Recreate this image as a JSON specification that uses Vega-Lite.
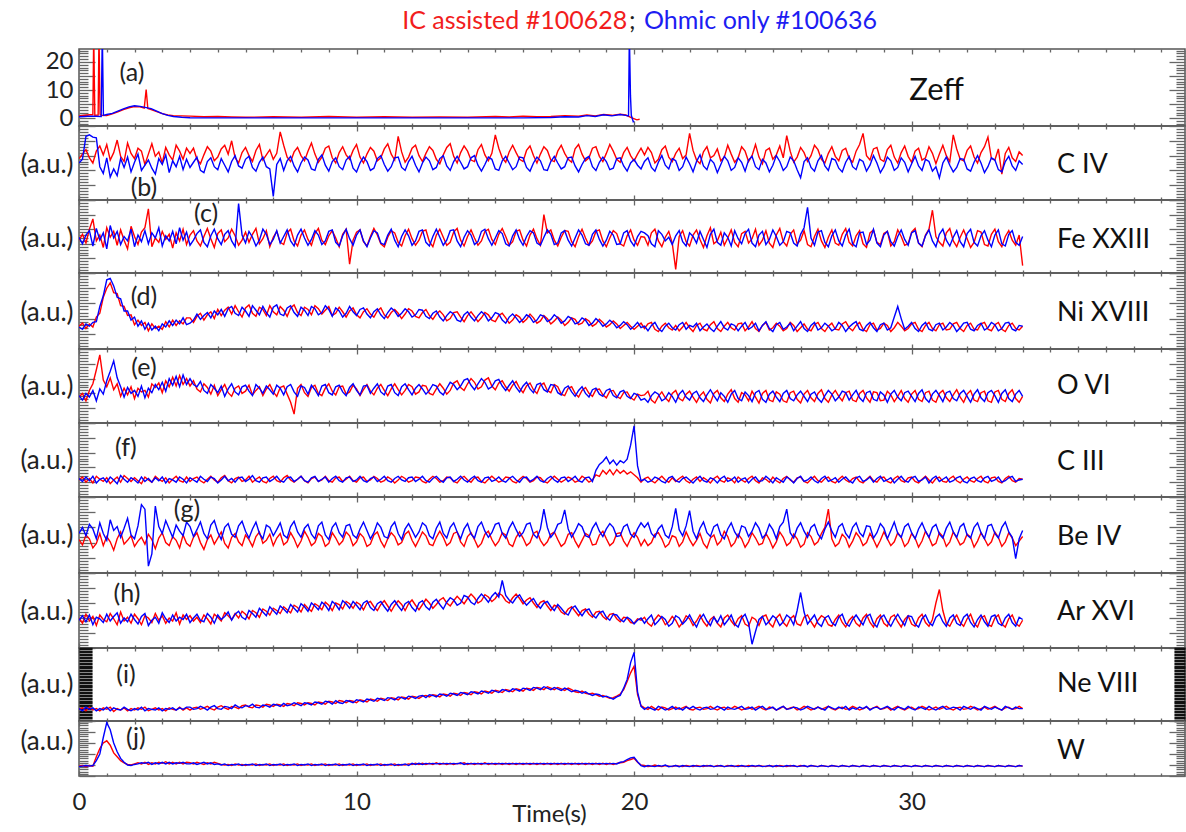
{
"$schema":"https://vega.github.io/schema/vega-lite/v6.json",
"padding":{"left":19,"top":8,"right":0,"bottom":0},
"background":"white",
"config":{"font":"Lato","view":{"stroke":"#555","strokeWidth":1.5},
"axis":{"domain":false,"grid":false,"tickColor":"#666","tickWidth":1.3,"labelColor":"#222","titleColor":"#222","titleFontWeight":"normal","labelFont":"Lato","titleFont":"Lato"}},
"spacing":0,"bounds":"flush",
"datasets":{
"z":[{"t":0,"r":0.8,"b":0.5},{"t":0.2,"r":1,"b":0.6},{"t":0.4,"r":1.2,"b":0.7},{"t":0.5,"r":1.2},{"t":0.53,"r":30},{"t":0.57,"r":1.0},{"t":0.69,"r":1.1},{"t":0.72,"r":30},{"t":0.76,"r":1.4},{"t":0.8,"r":1.0,"b":0.6},{"t":0.84,"b":30},{"t":0.88,"b":1.0},{"t":1.0,"r":0.9,"b":1.3},{"t":1.2,"r":1.5,"b":1.7},{"t":1.4,"r":2.2,"b":2.5},{"t":1.6,"r":3.0,"b":3.3},{"t":1.8,"r":3.7,"b":4.0},{"t":2.0,"r":4.1,"b":4.4},{"t":2.2,"r":4.0,"b":4.2},{"t":2.35,"r":3.6},{"t":2.42,"r":10.2},{"t":2.48,"r":3.4},{"t":2.6,"r":3.0,"b":3.4},{"t":2.8,"r":2.3,"b":2.5},{"t":3.0,"r":1.6,"b":1.6},{"t":3.2,"r":1.1,"b":1.0},{"t":3.4,"r":0.9,"b":0.6},{"t":3.7,"r":0.8,"b":0.3},{"t":4.0,"r":0.7,"b":0.15},{"t":4.5,"r":0.5,"b":0.1},{"t":5,"r":0.6,"b":0.1},{"t":5.5,"r":0.4},{"t":6,"r":0.3,"b":0.1},{"t":7,"r":0.5},{"t":8,"r":0.3,"b":0.1},{"t":9,"r":0.6},{"t":10,"r":0.3,"b":0.1},{"t":11,"r":0.5},{"t":12,"r":0.3,"b":0.1},{"t":13,"r":0.4},{"t":14,"r":0.3,"b":0.1},{"t":15,"r":0.6},{"t":15.5,"r":0.4},{"t":16,"r":0.7,"b":0.1},{"t":16.5,"r":0.5},{"t":17,"r":0.6,"b":0.2},{"t":17.5,"r":0.9,"b":0.5},{"t":18,"r":0.7,"b":0.4},{"t":18.3,"r":1.1,"b":0.9},{"t":18.6,"r":0.8,"b":0.6},{"t":18.9,"r":1.3,"b":1.2},{"t":19.2,"r":1.0,"b":0.8},{"t":19.5,"r":1.4,"b":1.3},{"t":19.7,"r":1.1,"b":1.0},{"t":19.8,"b":0.8},{"t":19.83,"b":30},{"t":19.87,"b":8},{"t":19.9,"r":0.2,"b":1},{"t":19.97,"b":-1.3},{"t":20.0,"b":-1.0},{"t":20.1,"r":-0.6},{"t":20.2,"r":-0.4}],
"m":[
{"t":0,"B":56,"b":50,"C":45,"c":49,"D":30,"d":29,"E":35,"e":37,"F":23,"f":25,"G":44,"g":52,"H":40,"h":37,"I":16,"i":17,"J":18,"j":17},
{"t":0.125,"B":62,"b":55,"C":53,"c":40,"D":34,"d":26,"E":40,"e":31,"F":27,"f":21,"G":37,"g":60,"H":33,"h":43,"I":18,"i":14,"J":19,"j":18},
{"t":0.25,"B":68,"b":86,"C":41,"c":52,"D":27,"d":33,"E":30,"e":40,"F":20,"f":27,"G":50,"g":49,"H":45,"h":35,"I":14,"i":19,"J":17,"j":19},
{"t":0.375,"B":57,"b":88,"C":60,"c":58,"D":33,"d":30,"E":44,"e":35,"F":25,"f":22,"G":45,"g":64,"H":36,"h":44,"I":19,"i":16,"J":19,"j":18},
{"t":0.5,"B":50,"b":85,"C":74,"c":37,"D":29,"d":35,"E":53,"e":44,"F":19,"f":28,"G":33,"g":58,"H":42,"h":31,"I":15,"i":18,"J":18,"j":19},
{"t":0.625,"B":66,"b":84,"C":44,"c":61,"D":42,"d":36,"E":72,"e":30,"F":28,"f":19,"G":39,"g":45,"H":30,"h":41,"I":17,"i":14,"J":35,"j":28},
{"t":0.75,"B":73,"b":45,"C":52,"c":45,"D":47,"d":56,"E":92,"e":46,"F":24,"f":24,"G":52,"g":66,"H":44,"h":39,"I":14,"i":17,"J":50,"j":40},
{"t":0.875,"B":61,"b":36,"C":35,"c":55,"D":68,"d":70,"E":58,"e":39,"F":21,"f":26,"G":36,"g":52,"H":38,"h":34,"I":18,"i":15,"J":60,"j":70},
{"t":1,"B":75,"b":57,"C":62,"c":33,"D":80,"d":91,"E":49,"e":57,"F":26,"f":20,"G":48,"g":43,"H":35,"h":45,"I":16,"i":19,"J":64,"j":97},
{"t":1.125,"B":54,"b":31,"C":49,"c":65,"D":87,"d":93,"E":61,"e":70,"F":18,"f":27,"G":41,"g":70,"H":46,"h":36,"I":19,"i":14,"J":56,"j":84},
{"t":1.25,"B":64,"b":42,"C":57,"c":48,"D":74,"d":83,"E":45,"e":84,"F":23,"f":23,"G":30,"g":56,"H":39,"h":42,"I":13,"i":18,"J":42,"j":60},
{"t":1.375,"B":81,"b":33,"C":38,"c":57,"D":73,"d":68,"E":53,"e":61,"F":27,"f":18,"G":45,"g":61,"H":31,"h":47,"I":17,"i":16,"J":35,"j":44},
{"t":1.5,"B":59,"b":56,"C":59,"c":39,"D":57,"d":66,"E":36,"e":49,"F":20,"f":29,"G":54,"g":47,"H":48,"h":33,"I":15,"i":15,"J":28,"j":32},
{"t":1.625,"B":52,"b":44,"C":45,"c":50,"D":56,"d":50,"E":47,"e":35,"F":29,"f":24,"G":38,"g":59,"H":36,"h":40,"I":18,"i":19,"J":24,"j":25},
{"t":1.75,"B":77,"b":58,"C":33,"c":44,"D":44,"d":50,"E":38,"e":48,"F":25,"f":20,"G":43,"g":72,"H":41,"h":35,"I":14,"i":16,"J":21,"j":20},
{"t":1.875,"B":63,"b":38,"C":64,"c":60,"D":45,"d":38,"E":49,"e":40,"F":21,"f":26,"G":49,"g":50,"H":33,"h":45,"I":17,"i":14,"J":20,"j":19},
{"t":2,"B":56,"b":51,"C":50,"c":36,"D":32,"d":42,"E":33,"e":44,"F":26,"f":23,"G":35,"g":45,"H":45,"h":38,"I":15,"i":17,"J":22,"j":21},
{"t":2.125,"B":70,"b":62,"C":39,"c":52,"D":38,"d":30,"E":47,"e":36,"F":22,"f":19,"G":42,"g":62,"H":39,"h":32,"I":18,"i":15,"J":24,"j":22},
{"t":2.25,"B":66,"b":40,"C":56,"c":43,"D":31,"d":37,"E":42,"e":50,"F":18,"f":27,"G":47,"g":90,"H":31,"h":42,"I":16,"i":19,"J":22,"j":24},
{"t":2.375,"B":48,"b":47,"C":62,"c":58,"D":35,"d":26,"E":44,"e":34,"F":27,"f":21,"G":38,"g":84,"H":43,"h":46,"I":19,"i":14,"J":25,"j":23},
{"t":2.5,"B":62,"b":54,"C":88,"c":40,"D":24,"d":34,"E":35,"e":47,"F":23,"f":25,"G":51,"g":9,"H":40,"h":30,"I":14,"i":17,"J":21,"j":25},
{"t":2.625,"B":76,"b":43,"C":36,"c":55,"D":33,"d":25,"E":53,"e":41,"F":20,"f":20,"G":44,"g":25,"H":34,"h":37,"I":16,"i":16,"J":24,"j":21},
{"t":2.75,"B":59,"b":35,"C":48,"c":48,"D":27,"d":30,"E":48,"e":52,"F":28,"f":26,"G":32,"g":88,"H":46,"h":41,"I":18,"i":15,"J":22,"j":24},
{"t":2.875,"B":65,"b":56,"C":42,"c":62,"D":30,"d":24,"E":54,"e":45,"F":24,"f":22,"G":46,"g":61,"H":37,"h":33,"I":15,"i":18,"J":25,"j":22},
{"t":3,"B":50,"b":48,"C":57,"c":37,"D":26,"d":33,"E":41,"e":55,"F":21,"f":27,"G":53,"g":52,"H":43,"h":47,"I":17,"i":14,"J":23,"j":25},
{"t":3.125,"B":71,"b":61,"C":46,"c":51,"D":36,"d":29,"E":57,"e":43,"F":26,"f":19,"G":40,"g":69,"H":33,"h":39,"I":14,"i":17,"J":26,"j":22},
{"t":3.25,"B":61,"b":37,"C":53,"c":44,"D":29,"d":37,"E":49,"e":60,"F":19,"f":25,"G":36,"g":58,"H":40,"h":34,"I":18,"i":16,"J":22,"j":25},
{"t":3.375,"B":54,"b":53,"C":34,"c":57,"D":38,"d":31,"E":62,"e":51,"F":24,"f":23,"G":48,"g":47,"H":36,"h":44,"I":16,"i":18,"J":25,"j":22},
{"t":3.5,"B":74,"b":45,"C":55,"c":40,"D":31,"d":38,"E":50,"e":63,"F":28,"f":20,"G":43,"g":63,"H":47,"h":36,"I":15,"i":15,"J":22,"j":24},
{"t":3.625,"B":66,"b":59,"C":44,"c":62,"D":37,"d":33,"E":64,"e":49,"F":22,"f":27,"G":33,"g":55,"H":32,"h":41,"I":19,"i":18,"J":25,"j":23},
{"t":3.75,"B":55,"b":41,"C":60,"c":45,"D":33,"d":41,"E":52,"e":65,"F":20,"f":24,"G":50,"g":49,"H":44,"h":38,"I":15,"i":16,"J":22,"j":25},
{"t":3.875,"B":70,"b":55,"C":39,"c":56,"D":41,"d":32,"E":60,"e":52,"F":27,"f":19,"G":39,"g":67,"H":38,"h":45,"I":18,"i":19,"J":25,"j":22},
{"t":4,"B":63,"b":44,"C":52,"c":38,"D":41,"d":34,"E":50,"e":60,"F":21,"f":26,"G":35,"g":61,"H":43,"h":34,"I":15,"i":19,"J":24,"j":22},
{"t":4.125,"B":70,"b":51,"C":58,"c":45,"D":35,"d":38,"E":57,"e":52,"F":25,"f":23,"G":47,"g":48,"H":36,"h":40,"I":18,"i":16,"J":22,"j":24},
{"t":4.25,"B":55,"b":58,"C":44,"c":54,"D":43,"d":46,"E":46,"e":49,"F":27,"f":20,"G":53,"g":57,"H":41,"h":45,"I":19,"i":17,"J":25,"j":21},
{"t":4.375,"B":49,"b":40,"C":37,"c":59,"D":47,"d":39,"E":42,"e":56,"F":22,"f":28,"G":40,"g":67,"H":34,"h":37,"I":16,"i":20,"J":23,"j":23},
{"t":4.5,"B":61,"b":37,"C":50,"c":42,"D":38,"d":44,"E":53,"e":44,"F":19,"f":24,"G":31,"g":52,"H":44,"h":35,"I":18,"i":18,"J":21,"j":25},
{"t":4.625,"B":72,"b":52,"C":61,"c":36,"D":45,"d":48,"E":48,"e":40,"F":24,"f":21,"G":44,"g":45,"H":39,"h":46,"I":20,"i":15,"J":24,"j":22},
{"t":4.75,"B":66,"b":57,"C":47,"c":51,"D":49,"d":41,"E":39,"e":52,"F":28,"f":27,"G":50,"g":63,"H":32,"h":41,"I":17,"i":19,"J":22,"j":24},
{"t":4.875,"B":53,"b":45,"C":35,"c":60,"D":40,"d":50,"E":51,"e":47,"F":23,"f":25,"G":38,"g":69,"H":45,"h":33,"I":15,"i":21,"J":25,"j":21},
{"t":5,"B":58,"b":41,"C":54,"c":47,"D":52,"d":45,"E":37,"e":41,"F":20,"f":19,"G":46,"g":54,"H":41,"h":44,"I":19,"i":17,"J":23,"j":22},
{"t":5.125,"B":69,"b":56,"C":59,"c":39,"D":44,"d":52,"E":45,"e":50,"F":26,"f":23,"G":54,"g":44,"H":36,"h":38,"I":21,"i":16,"J":21,"j":20},
{"t":5.25,"B":74,"b":47,"C":43,"c":53,"D":51,"d":43,"E":52,"e":36,"F":29,"f":28,"G":39,"g":60,"H":47,"h":42,"I":18,"i":20,"J":20,"j":22},
{"t":5.375,"B":62,"b":38,"C":48,"c":58,"D":55,"d":53,"E":41,"e":46,"F":22,"f":22,"G":33,"g":65,"H":43,"h":48,"I":16,"i":19,"J":21,"j":19},
{"t":5.5,"B":80,"b":52,"C":60,"c":44,"D":46,"d":56,"E":36,"e":53,"F":19,"f":25,"G":47,"g":51,"H":38,"h":37,"I":20,"i":17,"J":19,"j":21},
{"t":5.625,"B":57,"b":60,"C":51,"c":36,"D":57,"d":47,"E":47,"e":42,"F":25,"f":20,"G":52,"g":47,"H":46,"h":45,"I":19,"i":22,"J":22,"j":20},
{"t":5.75,"B":50,"b":46,"C":38,"c":95,"D":49,"d":44,"E":50,"e":38,"F":27,"f":26,"G":41,"g":62,"H":40,"h":49,"I":17,"i":19,"J":20,"j":22},
{"t":5.875,"B":64,"b":43,"C":45,"c":52,"D":42,"d":55,"E":40,"e":49,"F":21,"f":27,"G":36,"g":68,"H":49,"h":41,"I":21,"i":18,"J":21,"j":19},
{"t":6,"B":71,"b":55,"C":56,"c":41,"D":54,"d":50,"E":43,"e":51,"F":23,"f":21,"G":50,"g":55,"H":45,"h":38,"I":22,"i":21,"J":19,"j":21},
{"t":6.125,"B":60,"b":59,"C":42,"c":57,"D":58,"d":43,"E":51,"e":43,"F":28,"f":24,"G":44,"g":46,"H":39,"h":50,"I":19,"i":20,"J":21,"j":20},
{"t":6.25,"B":52,"b":44,"C":53,"c":49,"D":47,"d":57,"E":38,"e":37,"F":20,"f":29,"G":35,"g":58,"H":50,"h":46,"I":18,"i":23,"J":20,"j":22},
{"t":6.375,"B":67,"b":39,"C":61,"c":37,"D":43,"d":51,"E":44,"e":52,"F":24,"f":22,"G":48,"g":67,"H":47,"h":41,"I":22,"i":19,"J":22,"j":19},
{"t":6.5,"B":75,"b":51,"C":40,"c":45,"D":55,"d":45,"E":49,"e":47,"F":27,"f":20,"G":54,"g":52,"H":41,"h":53,"I":21,"i":18,"J":19,"j":21},
{"t":6.625,"B":54,"b":58,"C":47,"c":60,"D":52,"d":56,"E":37,"e":40,"F":21,"f":26,"G":39,"g":45,"H":52,"h":48,"I":19,"i":22,"J":21,"j":20},
{"t":6.75,"B":61,"b":45,"C":58,"c":53,"D":44,"d":48,"E":46,"e":50,"F":19,"f":27,"G":43,"g":63,"H":49,"h":43,"I":23,"i":21,"J":20,"j":22},
{"t":6.875,"B":68,"b":42,"C":36,"c":39,"D":57,"d":42,"E":52,"e":45,"F":25,"f":21,"G":51,"g":60,"H":44,"h":55,"I":22,"i":19,"J":22,"j":19},
{"t":7,"B":55,"b":5,"C":49,"c":46,"D":49,"d":55,"E":42,"e":39,"F":28,"f":24,"G":36,"g":49,"H":53,"h":50,"I":20,"i":23,"J":19,"j":21},
{"t":7.125,"B":63,"b":48,"C":57,"c":58,"D":45,"d":58,"E":36,"e":51,"F":22,"f":28,"G":46,"g":57,"H":50,"h":45,"I":23,"i":22,"J":21,"j":20},
{"t":7.25,"B":92,"b":56,"C":42,"c":41,"D":56,"d":46,"E":48,"e":47,"F":20,"f":22,"G":52,"g":66,"H":46,"h":56,"I":22,"i":20,"J":20,"j":22},
{"t":7.375,"B":74,"b":40,"C":39,"c":50,"D":51,"d":44,"E":50,"e":38,"F":26,"f":20,"G":37,"g":50,"H":55,"h":52,"I":20,"i":24,"J":22,"j":19},
{"t":7.5,"B":58,"b":53,"C":55,"c":59,"D":43,"d":54,"E":39,"e":49,"F":29,"f":26,"G":41,"g":46,"H":51,"h":47,"I":24,"i":21,"J":19,"j":21},
{"t":7.625,"B":52,"b":59,"C":60,"c":44,"D":54,"d":57,"E":28,"e":52,"F":23,"f":27,"G":53,"g":61,"H":47,"h":58,"I":23,"i":22,"J":21,"j":20},
{"t":7.75,"B":65,"b":46,"C":44,"c":37,"D":58,"d":48,"E":12,"e":42,"F":20,"f":21,"G":45,"g":68,"H":57,"h":53,"I":21,"i":25,"J":20,"j":22},
{"t":7.875,"B":71,"b":38,"C":37,"c":52,"D":48,"d":43,"E":47,"e":36,"F":24,"f":24,"G":34,"g":54,"H":54,"h":48,"I":25,"i":23,"J":22,"j":19},
{"t":8,"B":60,"b":50,"C":52,"c":60,"D":44,"d":55,"E":52,"e":50,"F":28,"f":28,"G":42,"g":47,"H":48,"h":59,"I":24,"i":21,"J":19,"j":21},
{"t":8.125,"B":53,"b":58,"C":59,"c":48,"D":55,"d":51,"E":41,"e":48,"F":22,"f":22,"G":55,"g":59,"H":58,"h":55,"I":22,"i":25,"J":21,"j":20},
{"t":8.25,"B":66,"b":54,"C":46,"c":38,"D":52,"d":44,"E":36,"e":39,"F":19,"f":20,"G":47,"g":64,"H":53,"h":49,"I":25,"i":24,"J":20,"j":22},
{"t":8.375,"B":77,"b":42,"C":38,"c":46,"D":45,"d":56,"E":48,"e":51,"F":25,"f":26,"G":36,"g":51,"H":49,"h":60,"I":24,"i":22,"J":22,"j":19},
{"t":8.5,"B":62,"b":40,"C":54,"c":58,"D":57,"d":53,"E":51,"e":45,"F":27,"f":28,"G":40,"g":45,"H":59,"h":56,"I":22,"i":26,"J":19,"j":21},
{"t":8.625,"B":51,"b":55,"C":61,"c":52,"D":53,"d":45,"E":40,"e":37,"F":21,"f":21,"G":52,"g":62,"H":56,"h":51,"I":26,"i":25,"J":21,"j":20},
{"t":8.75,"B":58,"b":61,"C":45,"c":39,"D":46,"d":48,"E":37,"e":50,"F":23,"f":24,"G":48,"g":67,"H":51,"h":61,"I":25,"i":23,"J":20,"j":22},
{"t":8.875,"B":70,"b":47,"C":39,"c":44,"D":51,"d":57,"E":47,"e":52,"F":28,"f":27,"G":35,"g":50,"H":61,"h":57,"I":23,"i":27,"J":22,"j":19},
{"t":9,"B":73,"b":39,"C":51,"c":57,"D":56,"d":52,"E":53,"e":41,"F":22,"f":20,"G":39,"g":44,"H":57,"h":50,"I":27,"i":26,"J":19,"j":21},
{"t":9.125,"B":57,"b":52,"C":58,"c":59,"D":44,"d":43,"E":43,"e":38,"F":20,"f":25,"G":53,"g":60,"H":50,"h":62,"I":26,"i":23,"J":21,"j":20},
{"t":9.25,"B":50,"b":57,"C":48,"c":42,"D":47,"d":54,"E":38,"e":49,"F":26,"f":28,"G":46,"g":66,"H":60,"h":58,"I":24,"i":28,"J":20,"j":22},
{"t":9.375,"B":64,"b":45,"C":36,"c":37,"D":55,"d":50,"E":49,"e":51,"F":27,"f":22,"G":37,"g":53,"H":58,"h":51,"I":28,"i":25,"J":22,"j":19},
{"t":9.5,"B":72,"b":41,"C":53,"c":51,"D":49,"d":42,"E":50,"e":42,"F":21,"f":20,"G":42,"g":47,"H":52,"h":63,"I":27,"i":24,"J":19,"j":21},
{"t":9.625,"B":61,"b":54,"C":60,"c":60,"D":42,"d":47,"E":39,"e":37,"F":24,"f":26,"G":54,"g":62,"H":62,"h":59,"I":25,"i":28,"J":21,"j":20},
{"t":9.75,"B":55,"b":59,"C":12,"c":47,"D":50,"d":56,"E":42,"e":48,"F":28,"f":27,"G":49,"g":64,"H":59,"h":53,"I":28,"i":27,"J":20,"j":22},
{"t":9.875,"B":67,"b":43,"C":45,"c":38,"D":54,"d":49,"E":51,"e":53,"F":22,"f":21,"G":36,"g":50,"H":53,"h":62,"I":27,"i":25,"J":22,"j":19},
{"t":10,"B":75,"b":38,"C":56,"c":52,"D":45,"d":44,"E":46,"e":44,"F":20,"f":23,"G":41,"g":46,"H":61,"h":57,"I":25,"i":29,"J":19,"j":21},
{"t":10.125,"B":58,"b":50,"C":59,"c":59,"D":41,"d":52,"E":37,"e":38,"F":26,"f":28,"G":52,"g":58,"H":58,"h":51,"I":29,"i":28,"J":21,"j":20},
{"t":10.25,"B":50,"b":58,"C":43,"c":44,"D":49,"d":54,"E":45,"e":50,"F":27,"f":22,"G":47,"g":67,"H":51,"h":60,"I":28,"i":26,"J":20,"j":22},
{"t":10.375,"B":62,"b":52,"C":37,"c":36,"D":53,"d":46,"E":52,"e":51,"F":21,"f":20,"G":35,"g":56,"H":60,"h":63,"I":26,"i":30,"J":22,"j":19},
{"t":10.5,"B":71,"b":40,"C":50,"c":48,"D":46,"d":41,"E":43,"e":40,"F":23,"f":25,"G":38,"g":45,"H":62,"h":54,"I":30,"i":29,"J":19,"j":21},
{"t":10.625,"B":66,"b":43,"C":61,"c":58,"D":42,"d":49,"E":38,"e":47,"F":28,"f":27,"G":50,"g":53,"H":55,"h":50,"I":29,"i":27,"J":21,"j":20},
{"t":10.75,"B":53,"b":56,"C":52,"c":55,"D":50,"d":53,"E":47,"e":53,"F":25,"f":21,"G":54,"g":66,"H":50,"h":59,"I":27,"i":31,"J":20,"j":22},
{"t":10.875,"B":57,"b":60,"C":40,"c":41,"D":54,"d":45,"E":52,"e":42,"F":20,"f":24,"G":42,"g":60,"H":58,"h":62,"I":31,"i":30,"J":22,"j":19},
{"t":11,"B":69,"b":48,"C":36,"c":39,"D":45,"d":40,"E":44,"e":38,"F":22,"f":28,"G":34,"g":48,"H":63,"h":55,"I":30,"i":28,"J":19,"j":21},
{"t":11.125,"B":76,"b":39,"C":49,"c":52,"D":41,"d":48,"E":37,"e":50,"F":27,"f":22,"G":45,"g":46,"H":56,"h":49,"I":28,"i":32,"J":21,"j":20},
{"t":11.25,"B":62,"b":45,"C":58,"c":60,"D":48,"d":54,"E":46,"e":52,"F":24,"f":20,"G":53,"g":61,"H":49,"h":58,"I":32,"i":31,"J":20,"j":22},
{"t":11.375,"B":54,"b":57,"C":55,"c":45,"D":52,"d":50,"E":53,"e":41,"F":19,"f":25,"G":48,"g":67,"H":57,"h":63,"I":31,"i":29,"J":22,"j":19},
{"t":11.5,"B":86,"b":58,"C":42,"c":36,"D":47,"d":43,"E":45,"e":37,"F":23,"f":28,"G":37,"g":52,"H":63,"h":56,"I":29,"i":33,"J":19,"j":21},
{"t":11.625,"B":65,"b":44,"C":37,"c":50,"D":40,"d":47,"E":38,"e":49,"F":28,"f":23,"G":40,"g":44,"H":58,"h":50,"I":33,"i":32,"J":21,"j":20},
{"t":11.75,"B":51,"b":40,"C":51,"c":59,"D":46,"d":53,"E":44,"e":53,"F":25,"f":21,"G":51,"g":58,"H":50,"h":59,"I":32,"i":30,"J":20,"j":22},
{"t":11.875,"B":58,"b":52,"C":60,"c":51,"D":53,"d":49,"E":52,"e":45,"F":20,"f":26,"G":55,"g":65,"H":59,"h":62,"I":30,"i":34,"J":22,"j":19},
{"t":12,"B":70,"b":59,"C":47,"c":38,"D":50,"d":42,"E":49,"e":38,"F":22,"f":27,"G":43,"g":56,"H":64,"h":54,"I":34,"i":33,"J":21,"j":23},
{"t":12.125,"B":74,"b":47,"C":38,"c":44,"D":43,"d":45,"E":39,"e":47,"F":27,"f":21,"G":35,"g":47,"H":57,"h":49,"I":33,"i":31,"J":23,"j":21},
{"t":12.25,"B":60,"b":38,"C":45,"c":57,"D":41,"d":52,"E":42,"e":52,"F":26,"f":24,"G":44,"g":54,"H":51,"h":60,"I":31,"i":34,"J":21,"j":23},
{"t":12.375,"B":52,"b":50,"C":57,"c":59,"D":48,"d":51,"E":51,"e":46,"F":21,"f":28,"G":54,"g":66,"H":58,"h":63,"I":34,"i":35,"J":23,"j":21},
{"t":12.5,"B":63,"b":58,"C":59,"c":42,"D":52,"d":43,"E":50,"e":39,"F":19,"f":22,"G":49,"g":62,"H":65,"h":55,"I":35,"i":32,"J":21,"j":23},
{"t":12.625,"B":72,"b":53,"C":43,"c":37,"D":44,"d":40,"E":40,"e":44,"F":24,"f":20,"G":38,"g":49,"H":60,"h":51,"I":33,"i":36,"J":23,"j":22},
{"t":12.75,"B":67,"b":41,"C":36,"c":50,"D":39,"d":47,"E":38,"e":52,"F":28,"f":25,"G":36,"g":45,"H":53,"h":61,"I":36,"i":35,"J":21,"j":23},
{"t":12.875,"B":55,"b":44,"C":52,"c":60,"D":46,"d":50,"E":46,"e":50,"F":25,"f":28,"G":47,"g":59,"H":58,"h":65,"I":35,"i":33,"J":24,"j":22},
{"t":13,"B":49,"b":56,"C":60,"c":49,"D":50,"d":42,"E":53,"e":42,"F":20,"f":23,"G":55,"g":67,"H":64,"h":58,"I":33,"i":37,"J":21,"j":23},
{"t":13.125,"B":61,"b":60,"C":49,"c":38,"D":45,"d":37,"E":47,"e":38,"F":22,"f":20,"G":47,"g":52,"H":67,"h":52,"I":37,"i":36,"J":23,"j":22},
{"t":13.25,"B":71,"b":46,"C":38,"c":45,"D":37,"d":44,"E":39,"e":47,"F":27,"f":26,"G":36,"g":46,"H":60,"h":61,"I":36,"i":34,"J":21,"j":23},
{"t":13.375,"B":76,"b":40,"C":42,"c":58,"D":40,"d":49,"E":44,"e":55,"F":26,"f":27,"G":40,"g":60,"H":56,"h":67,"I":34,"i":38,"J":23,"j":22},
{"t":13.5,"B":59,"b":52,"C":56,"c":59,"D":48,"d":46,"E":54,"e":52,"F":21,"f":21,"G":52,"g":66,"H":63,"h":64,"I":38,"i":37,"J":21,"j":23},
{"t":13.625,"B":50,"b":59,"C":61,"c":44,"D":49,"d":38,"E":57,"e":45,"F":19,"f":24,"G":54,"g":54,"H":69,"h":57,"I":37,"i":35,"J":23,"j":22},
{"t":13.75,"B":64,"b":51,"C":45,"c":36,"D":42,"d":36,"E":48,"e":50,"F":25,"f":28,"G":41,"g":45,"H":64,"h":60,"I":35,"i":39,"J":22,"j":24},
{"t":13.875,"B":73,"b":42,"C":37,"c":49,"D":36,"d":45,"E":44,"e":58,"F":28,"f":23,"G":35,"g":58,"H":59,"h":70,"I":39,"i":38,"J":24,"j":21},
{"t":14,"B":66,"b":45,"C":50,"c":58,"D":44,"d":49,"E":53,"e":60,"F":23,"f":20,"G":48,"g":65,"H":66,"h":68,"I":38,"i":36,"J":21,"j":23},
{"t":14.125,"B":54,"b":57,"C":59,"c":52,"D":49,"d":42,"E":60,"e":51,"F":20,"f":25,"G":53,"g":51,"H":72,"h":61,"I":36,"i":40,"J":23,"j":22},
{"t":14.25,"B":52,"b":60,"C":48,"c":39,"D":43,"d":37,"E":55,"e":45,"F":26,"f":28,"G":44,"g":46,"H":67,"h":58,"I":40,"i":39,"J":21,"j":23},
{"t":14.375,"B":68,"b":47,"C":38,"c":43,"D":36,"d":44,"E":46,"e":53,"F":27,"f":22,"G":34,"g":61,"H":60,"h":66,"I":39,"i":37,"J":23,"j":22},
{"t":14.5,"B":75,"b":39,"C":44,"c":57,"D":41,"d":49,"E":49,"e":60,"F":21,"f":20,"G":39,"g":67,"H":63,"h":72,"I":37,"i":41,"J":21,"j":23},
{"t":14.625,"B":61,"b":48,"C":57,"c":60,"D":48,"d":45,"E":58,"e":55,"F":19,"f":26,"G":51,"g":55,"H":71,"h":67,"I":41,"i":40,"J":24,"j":22},
{"t":14.75,"B":53,"b":58,"C":60,"c":47,"D":45,"d":37,"E":61,"e":46,"F":24,"f":27,"G":55,"g":47,"H":68,"h":61,"I":40,"i":38,"J":21,"j":23},
{"t":14.875,"B":63,"b":55,"C":46,"c":38,"D":38,"d":41,"E":50,"e":49,"F":28,"f":21,"G":44,"g":53,"H":62,"h":69,"I":38,"i":42,"J":23,"j":22},
{"t":15,"B":88,"b":42,"C":39,"c":48,"D":36,"d":48,"E":45,"e":57,"F":24,"f":23,"G":36,"g":64,"H":66,"h":74,"I":42,"i":41,"J":21,"j":23},
{"t":15.125,"B":70,"b":40,"C":53,"c":58,"D":44,"d":46,"E":54,"e":59,"F":20,"f":27,"G":42,"g":66,"H":73,"h":68,"I":41,"i":39,"J":23,"j":22},
{"t":15.25,"B":57,"b":53,"C":61,"c":54,"D":47,"d":38,"E":57,"e":50,"F":22,"f":22,"G":53,"g":52,"H":70,"h":90,"I":39,"i":43,"J":21,"j":23},
{"t":15.375,"B":51,"b":59,"C":50,"c":40,"D":41,"d":34,"E":49,"e":44,"F":27,"f":20,"G":50,"g":46,"H":63,"h":70,"I":43,"i":42,"J":23,"j":22},
{"t":15.5,"B":65,"b":50,"C":38,"c":37,"D":34,"d":42,"E":43,"e":51,"F":26,"f":25,"G":38,"g":59,"H":60,"h":64,"I":42,"i":40,"J":21,"j":23},
{"t":15.625,"B":74,"b":41,"C":43,"c":51,"D":38,"d":46,"E":51,"e":57,"F":21,"f":28,"G":35,"g":67,"H":67,"h":60,"I":40,"i":44,"J":23,"j":22},
{"t":15.75,"B":64,"b":45,"C":57,"c":59,"D":45,"d":41,"E":56,"e":48,"F":19,"f":23,"G":47,"g":57,"H":72,"h":67,"I":44,"i":43,"J":21,"j":23},
{"t":15.875,"B":55,"b":58,"C":59,"c":46,"D":42,"d":35,"E":47,"e":42,"F":24,"f":20,"G":54,"g":48,"H":66,"h":71,"I":43,"i":41,"J":23,"j":22},
{"t":16,"B":52,"b":57,"C":45,"c":38,"D":35,"d":39,"E":41,"e":50,"F":28,"f":26,"G":46,"g":53,"H":59,"h":63,"I":41,"i":45,"J":21,"j":23},
{"t":16.125,"B":67,"b":44,"C":37,"c":50,"D":39,"d":45,"E":50,"e":55,"F":25,"f":27,"G":36,"g":64,"H":64,"h":57,"I":45,"i":44,"J":23,"j":22},
{"t":16.25,"B":73,"b":39,"C":52,"c":58,"D":46,"d":42,"E":54,"e":46,"F":20,"f":21,"G":40,"g":66,"H":67,"h":62,"I":44,"i":42,"J":21,"j":23},
{"t":16.375,"B":60,"b":50,"C":60,"c":55,"D":41,"d":35,"E":45,"e":41,"F":22,"f":24,"G":52,"g":51,"H":60,"h":66,"I":42,"i":46,"J":23,"j":22},
{"t":16.5,"B":50,"b":58,"C":47,"c":41,"D":34,"d":38,"E":40,"e":52,"F":27,"f":28,"G":55,"g":46,"H":54,"h":58,"I":46,"i":45,"J":21,"j":23},
{"t":16.625,"B":62,"b":53,"C":38,"c":38,"D":37,"d":45,"E":51,"e":54,"F":26,"f":22,"G":43,"g":58,"H":61,"h":53,"I":45,"i":43,"J":23,"j":22},
{"t":16.75,"B":72,"b":41,"C":80,"c":49,"D":44,"d":43,"E":54,"e":45,"F":21,"f":20,"G":36,"g":84,"H":63,"h":60,"I":43,"i":47,"J":21,"j":23},
{"t":16.875,"B":67,"b":40,"C":55,"c":59,"D":40,"d":36,"E":44,"e":42,"F":19,"f":25,"G":41,"g":60,"H":56,"h":62,"I":47,"i":45,"J":23,"j":22},
{"t":17,"B":54,"b":52,"C":59,"c":53,"D":33,"d":39,"E":41,"e":52,"F":24,"f":28,"G":51,"g":47,"H":50,"h":55,"I":45,"i":43,"J":21,"j":23},
{"t":17.125,"B":52,"b":59,"C":45,"c":39,"D":37,"d":45,"E":52,"e":51,"F":28,"f":23,"G":54,"g":53,"H":57,"h":50,"I":43,"i":46,"J":23,"j":22},
{"t":17.25,"B":66,"b":50,"C":37,"c":41,"D":42,"d":41,"E":49,"e":41,"F":24,"f":20,"G":44,"g":64,"H":55,"h":58,"I":46,"i":44,"J":21,"j":23},
{"t":17.375,"B":74,"b":42,"C":49,"c":55,"D":38,"d":34,"E":39,"e":38,"F":20,"f":26,"G":35,"g":66,"H":48,"h":53,"I":44,"i":42,"J":23,"j":22},
{"t":17.5,"B":63,"b":45,"C":58,"c":58,"D":31,"d":37,"E":37,"e":47,"F":23,"f":27,"G":39,"g":83,"H":45,"h":47,"I":42,"i":45,"J":21,"j":23},
{"t":17.625,"B":55,"b":57,"C":57,"c":45,"D":35,"d":43,"E":47,"e":50,"F":27,"f":21,"G":51,"g":58,"H":52,"h":44,"I":45,"i":43,"J":23,"j":22},
{"t":17.75,"B":51,"b":58,"C":43,"c":37,"D":41,"d":40,"E":49,"e":42,"F":25,"f":24,"G":53,"g":47,"H":55,"h":53,"I":43,"i":40,"J":21,"j":23},
{"t":17.875,"B":69,"b":46,"C":36,"c":48,"D":39,"d":33,"E":40,"e":36,"F":20,"f":28,"G":42,"g":55,"H":49,"h":56,"I":40,"i":42,"J":23,"j":22},
{"t":18,"B":75,"b":38,"C":50,"c":59,"D":32,"d":35,"E":35,"e":44,"F":22,"f":22,"G":34,"g":65,"H":43,"h":49,"I":39,"i":41,"J":21,"j":23},
{"t":18.125,"B":62,"b":48,"C":60,"c":52,"D":34,"d":41,"E":44,"e":49,"F":28,"f":20,"G":43,"g":61,"H":50,"h":43,"I":41,"i":38,"J":23,"j":22},
{"t":18.25,"B":53,"b":56,"C":48,"c":40,"D":40,"d":38,"E":48,"e":40,"F":25,"f":26,"G":52,"g":49,"H":52,"h":50,"I":38,"i":40,"J":21,"j":23},
{"t":18.375,"B":57,"b":59,"C":38,"c":38,"D":37,"d":31,"E":40,"e":35,"F":20,"f":27,"G":49,"g":47,"H":45,"h":52,"I":37,"i":37,"J":23,"j":22},
{"t":18.5,"B":70,"b":45,"C":44,"c":53,"D":30,"d":34,"E":36,"e":45,"F":23,"f":21,"G":37,"g":59,"H":41,"h":44,"I":38,"i":35,"J":21,"j":23},
{"t":18.625,"B":72,"b":40,"C":57,"c":59,"D":33,"d":40,"E":45,"e":47,"F":30,"f":36,"G":38,"g":66,"H":48,"h":40,"I":36,"i":37,"J":23,"j":22},
{"t":18.75,"B":59,"b":51,"C":59,"c":46,"D":39,"d":36,"E":46,"e":39,"F":28,"f":44,"G":50,"g":55,"H":49,"h":47,"I":34,"i":36,"J":21,"j":23},
{"t":18.875,"B":52,"b":58,"C":44,"c":37,"D":35,"d":30,"E":38,"e":36,"F":36,"f":48,"G":55,"g":48,"H":42,"h":49,"I":35,"i":33,"J":23,"j":22},
{"t":19,"B":63,"b":52,"C":36,"c":45,"D":29,"d":33,"E":34,"e":44,"F":31,"f":54,"G":45,"g":58,"H":38,"h":41,"I":33,"i":34,"J":21,"j":23},
{"t":19.125,"B":75,"b":41,"C":48,"c":57,"D":32,"d":38,"E":43,"e":46,"F":37,"f":45,"G":36,"g":65,"H":45,"h":37,"I":31,"i":32,"J":23,"j":22},
{"t":19.25,"B":66,"b":43,"C":58,"c":52,"D":37,"d":34,"E":44,"e":37,"F":30,"f":50,"G":40,"g":60,"H":46,"h":45,"I":32,"i":30,"J":21,"j":23},
{"t":19.375,"B":55,"b":56,"C":54,"c":39,"D":33,"d":28,"E":36,"e":34,"F":37,"f":43,"G":52,"g":48,"H":39,"h":44,"I":34,"i":33,"J":23,"j":22},
{"t":19.5,"B":51,"b":57,"C":40,"c":40,"D":27,"d":31,"E":33,"e":42,"F":32,"f":49,"G":53,"g":49,"H":35,"h":38,"I":37,"i":35,"J":24,"j":25},
{"t":19.625,"B":64,"b":46,"C":37,"c":55,"D":31,"d":36,"E":41,"e":44,"F":36,"f":46,"G":42,"g":61,"H":41,"h":35,"I":43,"i":45,"J":25,"j":26},
{"t":19.75,"B":71,"b":39,"C":51,"c":58,"D":35,"d":32,"E":42,"e":36,"F":31,"f":51,"G":35,"g":64,"H":40,"h":41,"I":54,"i":57,"J":28,"j":30},
{"t":19.875,"B":60,"b":50,"C":59,"c":44,"D":30,"d":26,"E":34,"e":33,"F":34,"f":70,"G":45,"g":51,"H":34,"h":38,"I":66,"i":80,"J":30,"j":33},
{"t":20,"B":53,"b":55,"C":45,"c":37,"D":26,"d":30,"E":31,"e":40,"F":30,"f":96,"G":53,"g":47,"H":33,"h":32,"I":75,"i":94,"J":32,"j":34},
{"t":20.125,"B":62,"b":47,"C":38,"c":50,"D":30,"d":35,"E":39,"e":38,"F":26,"f":42,"G":47,"g":58,"H":39,"h":37,"I":36,"i":40,"J":25,"j":26},
{"t":20.25,"B":70,"b":42,"C":50,"c":57,"D":34,"d":28,"E":37,"e":31,"F":20,"f":22,"G":36,"g":66,"H":37,"h":40,"I":21,"i":20,"J":20,"j":19},
{"t":20.375,"B":61,"b":52,"C":49,"c":55,"D":27,"d":30,"E":38,"e":33,"F":25,"f":24,"G":44,"g":60,"H":41,"h":33,"I":18,"i":16,"J":19,"j":17},
{"t":20.5,"B":71,"b":57,"C":38,"c":51,"D":33,"d":24,"E":43,"e":28,"F":27,"f":20,"G":36,"g":66,"H":33,"h":39,"I":16,"i":19,"J":17,"j":19},
{"t":20.625,"B":64,"b":44,"C":55,"c":40,"D":35,"d":31,"E":31,"e":37,"F":22,"f":22,"G":40,"g":52,"H":29,"h":44,"I":20,"i":17,"J":18,"j":18},
{"t":20.75,"B":50,"b":39,"C":60,"c":36,"D":26,"d":35,"E":27,"e":42,"F":19,"f":27,"G":51,"g":47,"H":38,"h":31,"I":17,"i":15,"J":20,"j":17},
{"t":20.875,"B":55,"b":51,"C":44,"c":58,"D":23,"d":27,"E":36,"e":39,"F":24,"f":25,"G":53,"g":58,"H":44,"h":36,"I":15,"i":20,"J":18,"j":19},
{"t":21,"B":68,"b":60,"C":36,"c":53,"D":30,"d":23,"E":42,"e":30,"F":28,"f":21,"G":45,"g":63,"H":40,"h":42,"I":19,"i":18,"J":17,"j":18},
{"t":21.125,"B":73,"b":47,"C":49,"c":44,"D":34,"d":30,"E":34,"e":33,"F":23,"f":19,"G":34,"g":50,"H":31,"h":38,"I":18,"i":15,"J":19,"j":20},
{"t":21.25,"B":58,"b":42,"C":57,"c":49,"D":28,"d":34,"E":29,"e":41,"F":20,"f":26,"G":38,"g":46,"H":35,"h":29,"I":15,"i":17,"J":18,"j":17},
{"t":21.375,"B":52,"b":56,"C":41,"c":39,"D":25,"d":28,"E":40,"e":36,"F":26,"f":28,"G":49,"g":61,"H":42,"h":33,"I":17,"i":20,"J":17,"j":18},
{"t":21.5,"B":63,"b":53,"C":5,"c":51,"D":31,"d":25,"E":44,"e":28,"F":21,"f":22,"G":47,"g":85,"H":37,"h":43,"I":19,"i":16,"J":19,"j":19},
{"t":21.625,"B":70,"b":40,"C":50,"c":58,"D":24,"d":32,"E":33,"e":39,"F":25,"f":20,"G":35,"g":57,"H":28,"h":40,"I":16,"i":18,"J":18,"j":17},
{"t":21.75,"B":56,"b":45,"C":58,"c":43,"D":29,"d":35,"E":30,"e":44,"F":28,"f":25,"G":41,"g":49,"H":34,"h":32,"I":18,"i":15,"J":17,"j":19},
{"t":21.875,"B":61,"b":58,"C":43,"c":37,"D":35,"d":26,"E":39,"e":35,"F":22,"f":27,"G":54,"g":62,"H":43,"h":37,"I":20,"i":19,"J":19,"j":18},
{"t":22,"B":90,"b":49,"C":37,"c":55,"D":28,"d":31,"E":43,"e":31,"F":19,"f":23,"G":44,"g":82,"H":39,"h":44,"I":16,"i":17,"J":18,"j":17},
{"t":22.125,"B":67,"b":38,"C":52,"c":50,"D":23,"d":29,"E":35,"e":40,"F":24,"f":19,"G":36,"g":55,"H":30,"h":35,"I":15,"i":20,"J":17,"j":19},
{"t":22.25,"B":54,"b":52,"C":59,"c":41,"D":31,"d":34,"E":28,"e":43,"F":27,"f":24,"G":43,"g":45,"H":36,"h":28,"I":18,"i":17,"J":19,"j":18},
{"t":22.375,"B":49,"b":61,"C":46,"c":57,"D":34,"d":24,"E":37,"e":34,"F":21,"f":28,"G":52,"g":59,"H":44,"h":39,"I":19,"i":15,"J":18,"j":17},
{"t":22.5,"B":65,"b":46,"C":35,"c":46,"D":26,"d":29,"E":42,"e":29,"F":26,"f":22,"G":39,"g":67,"H":35,"h":45,"I":16,"i":18,"J":17,"j":19},
{"t":22.625,"B":72,"b":41,"C":51,"c":35,"D":24,"d":33,"E":32,"e":38,"F":23,"f":20,"G":33,"g":53,"H":29,"h":36,"I":17,"i":19,"J":19,"j":18},
{"t":22.75,"B":57,"b":55,"C":62,"c":53,"D":32,"d":27,"E":27,"e":45,"F":19,"f":26,"G":46,"g":48,"H":38,"h":30,"I":20,"i":16,"J":18,"j":19},
{"t":22.875,"B":60,"b":50,"C":40,"c":60,"D":36,"d":23,"E":40,"e":37,"F":25,"f":24,"G":50,"g":61,"H":42,"h":41,"I":17,"i":17,"J":17,"j":17},
{"t":23,"B":69,"b":37,"C":44,"c":42,"D":27,"d":30,"E":44,"e":30,"F":28,"f":19,"G":37,"g":64,"H":33,"h":34,"I":15,"i":20,"J":19,"j":18},
{"t":23.125,"B":53,"b":48,"C":56,"c":38,"D":23,"d":36,"E":34,"e":41,"F":22,"f":25,"G":42,"g":50,"H":28,"h":43,"I":18,"i":18,"J":18,"j":19},
{"t":23.25,"B":58,"b":59,"C":38,"c":55,"D":30,"d":28,"E":29,"e":36,"F":20,"f":28,"G":55,"g":45,"H":40,"h":31,"I":19,"i":15,"J":17,"j":17},
{"t":23.375,"B":74,"b":53,"C":48,"c":49,"D":35,"d":25,"E":39,"e":28,"F":26,"f":21,"G":48,"g":58,"H":44,"h":37,"I":16,"i":19,"J":19,"j":18},
{"t":23.5,"B":62,"b":40,"C":59,"c":37,"D":28,"d":33,"E":45,"e":39,"F":24,"f":23,"G":35,"g":66,"H":36,"h":44,"I":17,"i":17,"J":18,"j":19},
{"t":23.625,"B":51,"b":44,"C":42,"c":58,"D":25,"d":31,"E":33,"e":44,"F":19,"f":27,"G":40,"g":54,"H":30,"h":32,"I":20,"i":16,"J":17,"j":18},
{"t":23.75,"B":57,"b":57,"C":36,"c":47,"D":33,"d":24,"E":28,"e":33,"F":27,"f":20,"G":51,"g":47,"H":39,"h":28,"I":18,"i":18,"J":19,"j":17},
{"t":23.875,"B":72,"b":51,"C":54,"c":40,"D":34,"d":30,"E":41,"e":30,"F":23,"f":24,"G":45,"g":62,"H":43,"h":40,"I":15,"i":20,"J":18,"j":19},
{"t":24,"B":66,"b":39,"C":57,"c":54,"D":24,"d":35,"E":38,"e":42,"F":20,"f":26,"G":34,"g":60,"H":32,"h":45,"I":17,"i":16,"J":17,"j":18},
{"t":24.125,"B":52,"b":54,"C":41,"c":60,"D":29,"d":26,"E":30,"e":37,"F":25,"f":19,"G":41,"g":48,"H":29,"h":33,"I":19,"i":17,"J":19,"j":17},
{"t":24.25,"B":60,"b":59,"C":47,"c":41,"D":36,"d":29,"E":43,"e":29,"F":28,"f":24,"G":53,"g":55,"H":41,"h":5,"I":16,"i":19,"J":18,"j":19},
{"t":24.375,"B":75,"b":45,"C":60,"c":36,"D":27,"d":34,"E":35,"e":41,"F":22,"f":27,"G":46,"g":66,"H":38,"h":22,"I":18,"i":15,"J":17,"j":18},
{"t":24.5,"B":58,"b":41,"C":38,"c":52,"D":23,"d":24,"E":27,"e":44,"F":19,"f":21,"G":37,"g":59,"H":30,"h":38,"I":20,"i":18,"J":19,"j":19},
{"t":24.625,"B":49,"b":55,"C":45,"c":57,"D":31,"d":31,"E":40,"e":32,"F":26,"f":22,"G":39,"g":46,"H":42,"h":42,"I":17,"i":20,"J":18,"j":17},
{"t":24.75,"B":67,"b":50,"C":58,"c":39,"D":35,"d":36,"E":44,"e":28,"F":24,"f":28,"G":52,"g":51,"H":44,"h":31,"I":15,"i":16,"J":17,"j":18},
{"t":24.875,"B":70,"b":38,"C":41,"c":46,"D":25,"d":27,"E":31,"e":39,"F":20,"f":24,"G":44,"g":64,"H":33,"h":36,"I":19,"i":17,"J":19,"j":19},
{"t":25,"B":55,"b":47,"C":35,"c":59,"D":28,"d":23,"E":29,"e":43,"F":27,"f":19,"G":33,"g":57,"H":28,"h":43,"I":18,"i":19,"J":18,"j":17},
{"t":25.125,"B":61,"b":60,"C":52,"c":50,"D":34,"d":32,"E":42,"e":35,"F":22,"f":26,"G":41,"g":45,"H":40,"h":39,"I":15,"i":15,"J":17,"j":19},
{"t":25.25,"B":73,"b":52,"C":61,"c":38,"D":30,"d":35,"E":39,"e":29,"F":19,"f":23,"G":54,"g":61,"H":45,"h":30,"I":17,"i":18,"J":19,"j":18},
{"t":25.375,"B":57,"b":40,"C":43,"c":43,"D":24,"d":26,"E":30,"e":40,"F":25,"f":20,"G":47,"g":67,"H":34,"h":35,"I":20,"i":20,"J":18,"j":17},
{"t":25.5,"B":87,"b":45,"C":37,"c":57,"D":27,"d":29,"E":28,"e":44,"F":28,"f":27,"G":36,"g":84,"H":29,"h":44,"I":16,"i":16,"J":17,"j":19},
{"t":25.625,"B":66,"b":58,"C":53,"c":55,"D":35,"d":34,"E":41,"e":33,"F":23,"f":24,"G":40,"g":53,"H":39,"h":40,"I":18,"i":17,"J":19,"j":18},
{"t":25.75,"B":51,"b":53,"C":59,"c":41,"D":31,"d":24,"E":43,"e":30,"F":20,"f":19,"G":51,"g":46,"H":43,"h":31,"I":19,"i":19,"J":18,"j":19},
{"t":25.875,"B":58,"b":41,"C":40,"c":37,"D":23,"d":30,"E":32,"e":38,"F":26,"f":25,"G":45,"g":59,"H":32,"h":50,"I":15,"i":18,"J":17,"j":17},
{"t":26,"B":71,"b":30,"C":45,"c":53,"D":28,"d":36,"E":27,"e":43,"F":27,"f":28,"G":34,"g":66,"H":30,"h":74,"I":17,"i":15,"J":19,"j":18},
{"t":26.125,"B":64,"b":52,"C":58,"c":62,"D":33,"d":27,"E":39,"e":36,"F":21,"f":21,"G":38,"g":55,"H":41,"h":48,"I":20,"i":17,"J":18,"j":19},
{"t":26.25,"B":52,"b":57,"C":39,"c":90,"D":26,"d":23,"E":44,"e":29,"F":19,"f":23,"G":53,"g":47,"H":44,"h":32,"I":18,"i":20,"J":17,"j":17},
{"t":26.375,"B":60,"b":44,"C":36,"c":48,"D":24,"d":31,"E":34,"e":39,"F":24,"f":27,"G":48,"g":60,"H":35,"h":38,"I":15,"i":18,"J":19,"j":19},
{"t":26.5,"B":74,"b":39,"C":50,"c":38,"D":32,"d":35,"E":29,"e":42,"F":28,"f":22,"G":37,"g":64,"H":28,"h":44,"I":17,"i":16,"J":18,"j":18},
{"t":26.625,"B":68,"b":53,"C":60,"c":56,"D":35,"d":25,"E":40,"e":33,"F":22,"f":19,"G":41,"g":51,"H":37,"h":33,"I":19,"i":19,"J":17,"j":17},
{"t":26.75,"B":55,"b":60,"C":44,"c":58,"D":27,"d":28,"E":45,"e":28,"F":20,"f":25,"G":52,"g":45,"H":43,"h":29,"I":16,"i":17,"J":19,"j":19},
{"t":26.875,"B":50,"b":46,"C":35,"c":42,"D":23,"d":34,"E":33,"e":37,"F":25,"f":28,"G":60,"g":58,"H":40,"h":40,"I":18,"i":15,"J":18,"j":18},
{"t":27,"B":63,"b":40,"C":49,"c":36,"D":30,"d":30,"E":28,"e":44,"F":27,"f":21,"G":84,"g":67,"H":31,"h":43,"I":20,"i":20,"J":17,"j":17},
{"t":27.125,"B":72,"b":56,"C":59,"c":51,"D":34,"d":24,"E":38,"e":39,"F":21,"f":23,"G":45,"g":55,"H":29,"h":34,"I":17,"i":18,"J":19,"j":19},
{"t":27.25,"B":59,"b":54,"C":41,"c":59,"D":26,"d":27,"E":44,"e":30,"F":19,"f":26,"G":35,"g":47,"H":38,"h":30,"I":15,"i":16,"J":18,"j":18},
{"t":27.375,"B":53,"b":43,"C":38,"c":44,"D":25,"d":35,"E":36,"e":35,"F":24,"f":20,"G":39,"g":61,"H":44,"h":41,"I":18,"i":19,"J":17,"j":17},
{"t":27.5,"B":67,"b":38,"C":53,"c":37,"D":33,"d":31,"E":30,"e":43,"F":28,"f":24,"G":51,"g":65,"H":34,"h":45,"I":19,"i":17,"J":19,"j":19},
{"t":27.625,"B":70,"b":51,"C":61,"c":52,"D":36,"d":23,"E":41,"e":41,"F":23,"f":27,"G":46,"g":52,"H":28,"h":33,"I":16,"i":20,"J":18,"j":18},
{"t":27.75,"B":56,"b":59,"C":42,"c":60,"D":28,"d":29,"E":43,"e":31,"F":20,"f":22,"G":34,"g":46,"H":37,"h":29,"I":17,"i":15,"J":17,"j":17},
{"t":27.875,"B":51,"b":45,"C":37,"c":40,"D":24,"d":33,"E":31,"e":38,"F":25,"f":19,"G":42,"g":60,"H":42,"h":38,"I":20,"i":18,"J":19,"j":19},
{"t":28,"B":66,"b":41,"C":51,"c":36,"D":31,"d":36,"E":29,"e":44,"F":27,"f":26,"G":53,"g":66,"H":33,"h":44,"I":18,"i":16,"J":18,"j":18},
{"t":28.125,"B":75,"b":55,"C":58,"c":55,"D":35,"d":26,"E":40,"e":34,"F":21,"f":28,"G":47,"g":53,"H":29,"h":37,"I":15,"i":19,"J":17,"j":17},
{"t":28.25,"B":90,"b":52,"C":40,"c":56,"D":26,"d":24,"E":44,"e":29,"F":19,"f":21,"G":36,"g":48,"H":40,"h":31,"I":17,"i":17,"J":19,"j":19},
{"t":28.375,"B":60,"b":39,"C":35,"c":39,"D":23,"d":31,"E":34,"e":41,"F":24,"f":23,"G":40,"g":62,"H":45,"h":42,"I":19,"i":20,"J":18,"j":18},
{"t":28.5,"B":54,"b":47,"C":55,"c":45,"D":32,"d":35,"E":28,"e":43,"F":28,"f":27,"G":52,"g":61,"H":34,"h":45,"I":16,"i":15,"J":17,"j":17},
{"t":28.625,"B":69,"b":60,"C":59,"c":60,"D":34,"d":28,"E":42,"e":32,"F":22,"f":20,"G":44,"g":46,"H":28,"h":33,"I":18,"i":18,"J":19,"j":19},
{"t":28.75,"B":71,"b":50,"C":42,"c":41,"D":25,"d":23,"E":41,"e":30,"F":20,"f":25,"G":34,"g":53,"H":39,"h":28,"I":20,"i":19,"J":18,"j":18},
{"t":28.875,"B":55,"b":37,"C":39,"c":36,"D":27,"d":32,"E":30,"e":42,"F":26,"f":28,"G":43,"g":65,"H":44,"h":40,"I":16,"i":16,"J":17,"j":17},
{"t":29,"B":52,"b":45,"C":54,"c":52,"D":34,"d":34,"E":31,"e":38,"F":27,"f":21,"G":54,"g":59,"H":33,"h":44,"I":17,"i":18,"J":19,"j":19},
{"t":29.125,"B":68,"b":58,"C":57,"c":57,"D":31,"d":25,"E":43,"e":28,"F":21,"f":23,"G":45,"g":45,"H":29,"h":35,"I":19,"i":20,"J":18,"j":18},
{"t":29.25,"B":74,"b":53,"C":37,"c":43,"D":23,"d":28,"E":38,"e":39,"F":19,"f":26,"G":36,"g":56,"H":41,"h":29,"I":15,"i":17,"J":17,"j":17},
{"t":29.375,"B":58,"b":40,"C":43,"c":37,"D":28,"d":42,"E":29,"e":44,"F":25,"f":19,"G":41,"g":67,"H":44,"h":38,"I":18,"i":15,"J":19,"j":19},
{"t":29.5,"B":50,"b":44,"C":59,"c":50,"D":35,"d":56,"E":36,"e":35,"F":28,"f":24,"G":53,"g":52,"H":35,"h":45,"I":20,"i":19,"J":18,"j":18},
{"t":29.625,"B":64,"b":57,"C":50,"c":59,"D":30,"d":40,"E":44,"e":30,"F":22,"f":28,"G":47,"g":47,"H":28,"h":37,"I":17,"i":18,"J":17,"j":17},
{"t":29.75,"B":73,"b":51,"C":38,"c":46,"D":24,"d":26,"E":33,"e":41,"F":20,"f":22,"G":35,"g":61,"H":38,"h":30,"I":15,"i":16,"J":19,"j":19},
{"t":29.875,"B":59,"b":38,"C":40,"c":38,"D":27,"d":30,"E":28,"e":43,"F":26,"f":20,"G":40,"g":65,"H":43,"h":43,"I":18,"i":20,"J":18,"j":18},
{"t":30,"B":51,"b":49,"C":56,"c":55,"D":33,"d":35,"E":39,"e":36,"F":27,"f":26,"G":52,"g":53,"H":32,"h":42,"I":19,"i":17,"J":17,"j":17},
{"t":30.125,"B":66,"b":59,"C":61,"c":58,"D":35,"d":27,"E":44,"e":29,"F":21,"f":28,"G":46,"g":45,"H":29,"h":32,"I":16,"i":15,"J":19,"j":19},
{"t":30.25,"B":70,"b":46,"C":41,"c":41,"D":26,"d":23,"E":32,"e":40,"F":19,"f":21,"G":34,"g":58,"H":40,"h":28,"I":17,"i":19,"J":18,"j":18},
{"t":30.375,"B":54,"b":40,"C":36,"c":37,"D":23,"d":31,"E":29,"e":45,"F":24,"f":23,"G":42,"g":66,"H":45,"h":39,"I":20,"i":18,"J":17,"j":17},
{"t":30.5,"B":57,"b":55,"C":52,"c":51,"D":31,"d":35,"E":41,"e":33,"F":28,"f":27,"G":55,"g":55,"H":34,"h":44,"I":18,"i":16,"J":19,"j":19},
{"t":30.625,"B":72,"b":52,"C":60,"c":59,"D":35,"d":26,"E":43,"e":28,"F":23,"f":19,"G":47,"g":47,"H":29,"h":34,"I":15,"i":20,"J":18,"j":18},
{"t":30.75,"B":63,"b":39,"C":86,"c":44,"D":27,"d":24,"E":31,"e":39,"F":19,"f":25,"G":36,"g":60,"H":38,"h":30,"I":17,"i":17,"J":17,"j":17},
{"t":30.875,"B":49,"b":45,"C":50,"c":36,"D":24,"d":32,"E":28,"e":44,"F":25,"f":28,"G":39,"g":64,"H":60,"h":41,"I":19,"i":15,"J":19,"j":19},
{"t":31,"B":62,"b":30,"C":42,"c":53,"D":32,"d":34,"E":40,"e":37,"F":27,"f":21,"G":53,"g":51,"H":78,"h":45,"I":16,"i":18,"J":18,"j":18},
{"t":31.125,"B":74,"b":50,"C":37,"c":60,"D":34,"d":25,"E":44,"e":29,"F":21,"f":24,"G":48,"g":46,"H":50,"h":35,"I":18,"i":20,"J":17,"j":17},
{"t":31.25,"B":60,"b":58,"C":55,"c":45,"D":25,"d":29,"E":34,"e":41,"F":20,"f":27,"G":35,"g":59,"H":33,"h":29,"I":20,"i":16,"J":19,"j":19},
{"t":31.375,"B":52,"b":47,"C":61,"c":37,"D":26,"d":35,"E":29,"e":43,"F":25,"f":20,"G":41,"g":67,"H":29,"h":40,"I":17,"i":17,"J":18,"j":18},
{"t":31.5,"B":88,"b":38,"C":44,"c":49,"D":33,"d":31,"E":38,"e":33,"F":28,"f":22,"G":54,"g":54,"H":38,"h":44,"I":15,"i":19,"J":17,"j":17},
{"t":31.625,"B":69,"b":44,"C":36,"c":58,"D":35,"d":23,"E":45,"e":30,"F":22,"f":26,"G":46,"g":47,"H":44,"h":33,"I":18,"i":18,"J":19,"j":19},
{"t":31.75,"B":55,"b":56,"C":49,"c":43,"D":27,"d":28,"E":35,"e":40,"F":19,"f":28,"G":37,"g":61,"H":34,"h":30,"I":19,"i":15,"J":18,"j":18},
{"t":31.875,"B":53,"b":55,"C":59,"c":36,"D":23,"d":34,"E":28,"e":44,"F":24,"f":21,"G":40,"g":65,"H":29,"h":41,"I":16,"i":20,"J":17,"j":17},
{"t":32,"B":67,"b":42,"C":47,"c":54,"D":31,"d":35,"E":39,"e":36,"F":27,"f":19,"G":51,"g":50,"H":39,"h":45,"I":17,"i":18,"J":19,"j":19},
{"t":32.125,"B":73,"b":39,"C":35,"c":60,"D":34,"d":26,"E":44,"e":28,"F":22,"f":25,"G":47,"g":46,"H":45,"h":34,"I":20,"i":16,"J":18,"j":18},
{"t":32.25,"B":58,"b":51,"C":42,"c":42,"D":26,"d":24,"E":31,"e":39,"F":20,"f":27,"G":34,"g":60,"H":33,"h":28,"I":18,"i":19,"J":17,"j":17},
{"t":32.375,"B":50,"b":60,"C":58,"c":37,"D":25,"d":31,"E":29,"e":45,"F":25,"f":22,"G":42,"g":66,"H":28,"h":38,"I":15,"i":17,"J":19,"j":19},
{"t":32.5,"B":64,"b":50,"C":56,"c":51,"D":33,"d":34,"E":41,"e":34,"F":28,"f":20,"G":53,"g":53,"H":40,"h":44,"I":17,"i":15,"J":18,"j":18},
{"t":32.625,"B":72,"b":37,"C":39,"c":58,"D":35,"d":25,"E":43,"e":29,"F":21,"f":26,"G":45,"g":45,"H":43,"h":35,"I":19,"i":20,"J":17,"j":17},
{"t":32.75,"B":85,"b":45,"C":37,"c":45,"D":26,"d":28,"E":30,"e":41,"F":19,"f":28,"G":36,"g":62,"H":31,"h":29,"I":16,"i":18,"J":19,"j":19},
{"t":32.875,"B":56,"b":57,"C":53,"c":36,"D":24,"d":35,"E":28,"e":44,"F":26,"f":21,"G":41,"g":64,"H":29,"h":42,"I":18,"i":16,"J":18,"j":18},
{"t":33,"B":54,"b":54,"C":60,"c":52,"D":32,"d":32,"E":42,"e":37,"F":27,"f":23,"G":54,"g":52,"H":40,"h":44,"I":20,"i":19,"J":17,"j":17},
{"t":33.125,"B":69,"b":41,"C":43,"c":59,"D":35,"d":24,"E":44,"e":28,"F":21,"f":27,"G":47,"g":46,"H":44,"h":33,"I":17,"i":17,"J":19,"j":19},
{"t":33.25,"B":35,"b":38,"C":36,"c":40,"D":26,"d":27,"E":32,"e":40,"F":19,"f":20,"G":35,"g":60,"H":32,"h":30,"I":15,"i":15,"J":18,"j":18},
{"t":33.375,"B":63,"b":52,"C":50,"c":37,"D":23,"d":34,"E":29,"e":45,"F":25,"f":22,"G":41,"g":67,"H":28,"h":40,"I":18,"i":20,"J":17,"j":17},
{"t":33.5,"B":71,"b":59,"C":58,"c":53,"D":31,"d":35,"E":40,"e":33,"F":28,"f":26,"G":53,"g":54,"H":39,"h":45,"I":19,"i":18,"J":19,"j":19},
{"t":33.625,"B":57,"b":46,"C":45,"c":58,"D":34,"d":26,"E":45,"e":29,"F":22,"f":28,"G":46,"g":47,"H":44,"h":34,"I":16,"i":16,"J":18,"j":18},
{"t":33.75,"B":52,"b":40,"C":38,"c":42,"D":27,"d":24,"E":33,"e":39,"F":20,"f":21,"G":36,"g":19,"H":33,"h":29,"I":17,"i":19,"J":17,"j":17},
{"t":33.875,"B":65,"b":53,"C":52,"c":38,"D":25,"d":31,"E":28,"e":44,"F":25,"f":23,"G":42,"g":45,"H":29,"h":41,"I":20,"i":17,"J":19,"j":19},
{"t":34,"B":60,"b":48,"C":10,"c":50,"D":30,"d":30,"E":36,"e":36,"F":24,"f":24,"G":48,"g":56,"H":37,"h":38,"I":17,"i":17,"J":18,"j":18}
]},
"vconcat":[
{"width":1106,"height":77,"data":{"name":"z"},
"layer":[
{"transform":[{"filter":"isValid(datum.r)"}],"mark":{"type":"line","color":"#ff0000","strokeWidth":1.4,"clip":true},
"encoding":{"x":{"field":"t","type":"quantitative","scale":{"domain":[0,39.85],"nice":false,"zero":false},"axis":{"orient":"bottom","values":[0,1,2,3,4,5,6,7,8,9,10,11,12,13,14,15,16,17,18,19,20,21,22,23,24,25,26,27,28,29,30,31,32,33,34,35,36,37,38,39],"tickSize":{"condition":{"test":"datum.value % 10 === 0","value":-5},"value":-3},"labels":false,"title":null}},
"y":{"field":"r","type":"quantitative","scale":{"domain":[-2.8,24.6],"nice":false,"zero":false},"axis":{"orient":"left","values":[-2,-1,0,1,2,3,4,5,6,7,8,9,10,11,12,13,14,15,16,17,18,19,20,21,22,23,24],"tickSize":{"condition":{"test":"datum.value % 5 === 0","value":-16},"value":-9},"labelExpr":"datum.value % 10 === 0 ? datum.label : ''","labelFontSize":24,"labelPadding":22,"labelOverlap":false,"labelBound":false,"labelFlush":false,"title":null}}}},
{"transform":[{"filter":"isValid(datum.b)"}],"mark":{"type":"line","color":"#0000ff","strokeWidth":1.4,"clip":true},
"encoding":{"x":{"field":"t","type":"quantitative","axis":{"orient":"top","values":[0,1,2,3,4,5,6,7,8,9,10,11,12,13,14,15,16,17,18,19,20,21,22,23,24,25,26,27,28,29,30,31,32,33,34,35,36,37,38,39],"tickSize":{"condition":{"test":"datum.value % 10 === 0","value":-5},"value":-3},"labels":false,"title":null}},
"y":{"field":"b","type":"quantitative","axis":{"orient":"right","values":[-2,-1,0,1,2,3,4,5,6,7,8,9,10,11,12,13,14,15,16,17,18,19,20,21,22,23,24],"tickSize":{"condition":{"test":"datum.value % 5 === 0","value":-16},"value":-9},"labels":false,"title":null}}}},
{"data":{"values":[{}]},"mark":{"type":"text","fontSize":25,"color":"#222","baseline":"middle","align":"center"},"encoding":{"x":{"datum":1.91,"type":"quantitative","axis":null},"y":{"datum":16,"type":"quantitative","axis":null},"text":{"value":"(a)"}}},
{"data":{"values":[{}]},"mark":{"type":"text","fontSize":31,"color":"#111","baseline":"middle","align":"center"},"encoding":{"x":{"datum":30.9,"type":"quantitative","axis":null},"y":{"datum":9.6,"type":"quantitative","axis":null},"text":{"value":"Zeff"}}},
{"data":{"values":[{}]},"mark":{"type":"text","fontSize":25,"color":"#f21d1d","baseline":"alphabetic","align":"right"},"encoding":{"x":{"datum":19.75,"type":"quantitative","axis":null},"y":{"datum":31.8,"type":"quantitative","axis":null},"text":{"value":"IC assisted #100628"}}},
{"data":{"values":[{}]},"mark":{"type":"text","fontSize":25,"color":"#222","baseline":"alphabetic","align":"left"},"encoding":{"x":{"datum":19.82,"type":"quantitative","axis":null},"y":{"datum":31.8,"type":"quantitative","axis":null},"text":{"value":";"}}},
{"data":{"values":[{}]},"mark":{"type":"text","fontSize":25,"color":"#1d1df2","baseline":"alphabetic","align":"left"},"encoding":{"x":{"datum":20.36,"type":"quantitative","axis":null},"y":{"datum":31.8,"type":"quantitative","axis":null},"text":{"value":"Ohmic only #100636"}}}
],
"resolve":{"axis":{"x":"independent","y":"independent"}}},

{"width":1106,"height":74,"data":{"name":"m"},
"layer":[
{"mark":{"type":"line","color":"#ff0000","strokeWidth":1.4,"clip":true},"encoding":{"x":{"field":"t","type":"quantitative","scale":{"domain":[0,39.85],"nice":false,"zero":false},"axis":{"orient":"bottom","values":[0,1,2,3,4,5,6,7,8,9,10,11,12,13,14,15,16,17,18,19,20,21,22,23,24,25,26,27,28,29,30,31,32,33,34,35,36,37,38,39],"tickSize":{"condition":{"test":"datum.value % 10 === 0","value":-5},"value":-3},"labels":false,"title":null}},"y":{"field":"B","type":"quantitative","scale":{"domain":[0,100],"nice":false,"zero":false},"axis":{"orient":"left","values":[0,4,8,12,16,20,24,28,32,36,40,44,48,52,56,60,64,68,72,76,80,84,88,92,96,100],"tickSize":{"condition":{"test":"datum.value % 20 === 0","value":-16},"value":-9},"labels":false,"title":"(a.u.)","titleAngle":0,"titleAlign":"right","titleBaseline":"middle","titleX":-6,"titleY":38,"titleFontSize":26}}}},
{"mark":{"type":"line","color":"#0000ff","strokeWidth":1.4,"clip":true},"encoding":{"x":{"field":"t","type":"quantitative","axis":{"orient":"top","values":[0,1,2,3,4,5,6,7,8,9,10,11,12,13,14,15,16,17,18,19,20,21,22,23,24,25,26,27,28,29,30,31,32,33,34,35,36,37,38,39],"tickSize":{"condition":{"test":"datum.value % 10 === 0","value":-5},"value":-3},"labels":false,"title":null}},"y":{"field":"b","type":"quantitative","axis":{"orient":"right","values":[0,4,8,12,16,20,24,28,32,36,40,44,48,52,56,60,64,68,72,76,80,84,88,92,96,100],"tickSize":{"condition":{"test":"datum.value % 20 === 0","value":-16},"value":-9},"labels":false,"title":null}}}},
{"data":{"values":[{}]},"mark":{"type":"text","fontSize":25,"color":"#222","baseline":"middle","align":"center"},"encoding":{"x":{"datum":2.34,"type":"quantitative","axis":null},"y":{"datum":16,"type":"quantitative","axis":null},"text":{"value":"(b)"}}},
{"data":{"values":[{}]},"mark":{"type":"text","fontSize":27,"color":"#111","baseline":"middle","align":"left"},"encoding":{"x":{"datum":35.24,"type":"quantitative","axis":null},"y":{"datum":47,"type":"quantitative","axis":null},"text":{"value":"C IV"}}}
],"resolve":{"axis":{"x":"independent","y":"independent"}}},

{"width":1106,"height":73,"data":{"name":"m"},
"layer":[
{"mark":{"type":"line","color":"#ff0000","strokeWidth":1.4,"clip":true},"encoding":{"x":{"field":"t","type":"quantitative","scale":{"domain":[0,39.85],"nice":false,"zero":false},"axis":{"orient":"bottom","values":[0,1,2,3,4,5,6,7,8,9,10,11,12,13,14,15,16,17,18,19,20,21,22,23,24,25,26,27,28,29,30,31,32,33,34,35,36,37,38,39],"tickSize":{"condition":{"test":"datum.value % 10 === 0","value":-5},"value":-3},"labels":false,"title":null}},"y":{"field":"C","type":"quantitative","scale":{"domain":[0,100],"nice":false,"zero":false},"axis":{"orient":"left","values":[0,4,8,12,16,20,24,28,32,36,40,44,48,52,56,60,64,68,72,76,80,84,88,92,96,100],"tickSize":{"condition":{"test":"datum.value % 20 === 0","value":-16},"value":-9},"labels":false,"title":"(a.u.)","titleAngle":0,"titleAlign":"right","titleBaseline":"middle","titleX":-6,"titleY":38,"titleFontSize":26}}}},
{"mark":{"type":"line","color":"#0000ff","strokeWidth":1.4,"clip":true},"encoding":{"x":{"field":"t","type":"quantitative","axis":{"orient":"top","values":[0,1,2,3,4,5,6,7,8,9,10,11,12,13,14,15,16,17,18,19,20,21,22,23,24,25,26,27,28,29,30,31,32,33,34,35,36,37,38,39],"tickSize":{"condition":{"test":"datum.value % 10 === 0","value":-5},"value":-3},"labels":false,"title":null}},"y":{"field":"c","type":"quantitative","axis":{"orient":"right","values":[0,4,8,12,16,20,24,28,32,36,40,44,48,52,56,60,64,68,72,76,80,84,88,92,96,100],"tickSize":{"condition":{"test":"datum.value % 20 === 0","value":-16},"value":-9},"labels":false,"title":null}}}},
{"data":{"values":[{}]},"mark":{"type":"text","fontSize":25,"color":"#222","baseline":"middle","align":"center"},"encoding":{"x":{"datum":4.58,"type":"quantitative","axis":null},"y":{"datum":81,"type":"quantitative","axis":null},"text":{"value":"(c)"}}},
{"data":{"values":[{}]},"mark":{"type":"text","fontSize":27,"color":"#111","baseline":"middle","align":"left"},"encoding":{"x":{"datum":35.24,"type":"quantitative","axis":null},"y":{"datum":45,"type":"quantitative","axis":null},"text":{"value":"Fe XXIII"}}}
],"resolve":{"axis":{"x":"independent","y":"independent"}}},

{"width":1106,"height":76,"data":{"name":"m"},
"layer":[
{"mark":{"type":"line","color":"#ff0000","strokeWidth":1.4,"clip":true},"encoding":{"x":{"field":"t","type":"quantitative","scale":{"domain":[0,39.85],"nice":false,"zero":false},"axis":{"orient":"bottom","values":[0,1,2,3,4,5,6,7,8,9,10,11,12,13,14,15,16,17,18,19,20,21,22,23,24,25,26,27,28,29,30,31,32,33,34,35,36,37,38,39],"tickSize":{"condition":{"test":"datum.value % 10 === 0","value":-5},"value":-3},"labels":false,"title":null}},"y":{"field":"D","type":"quantitative","scale":{"domain":[0,100],"nice":false,"zero":false},"axis":{"orient":"left","values":[0,4,8,12,16,20,24,28,32,36,40,44,48,52,56,60,64,68,72,76,80,84,88,92,96,100],"tickSize":{"condition":{"test":"datum.value % 20 === 0","value":-16},"value":-9},"labels":false,"title":"(a.u.)","titleAngle":0,"titleAlign":"right","titleBaseline":"middle","titleX":-6,"titleY":39,"titleFontSize":26}}}},
{"mark":{"type":"line","color":"#0000ff","strokeWidth":1.4,"clip":true},"encoding":{"x":{"field":"t","type":"quantitative","axis":{"orient":"top","values":[0,1,2,3,4,5,6,7,8,9,10,11,12,13,14,15,16,17,18,19,20,21,22,23,24,25,26,27,28,29,30,31,32,33,34,35,36,37,38,39],"tickSize":{"condition":{"test":"datum.value % 10 === 0","value":-5},"value":-3},"labels":false,"title":null}},"y":{"field":"d","type":"quantitative","axis":{"orient":"right","values":[0,4,8,12,16,20,24,28,32,36,40,44,48,52,56,60,64,68,72,76,80,84,88,92,96,100],"tickSize":{"condition":{"test":"datum.value % 20 === 0","value":-16},"value":-9},"labels":false,"title":null}}}},
{"data":{"values":[{}]},"mark":{"type":"text","fontSize":25,"color":"#222","baseline":"middle","align":"center"},"encoding":{"x":{"datum":2.34,"type":"quantitative","axis":null},"y":{"datum":68,"type":"quantitative","axis":null},"text":{"value":"(d)"}}},
{"data":{"values":[{}]},"mark":{"type":"text","fontSize":27,"color":"#111","baseline":"middle","align":"left"},"encoding":{"x":{"datum":35.24,"type":"quantitative","axis":null},"y":{"datum":47,"type":"quantitative","axis":null},"text":{"value":"Ni XVIII"}}}
],"resolve":{"axis":{"x":"independent","y":"independent"}}},

{"width":1106,"height":74,"data":{"name":"m"},
"layer":[
{"mark":{"type":"line","color":"#ff0000","strokeWidth":1.4,"clip":true},"encoding":{"x":{"field":"t","type":"quantitative","scale":{"domain":[0,39.85],"nice":false,"zero":false},"axis":{"orient":"bottom","values":[0,1,2,3,4,5,6,7,8,9,10,11,12,13,14,15,16,17,18,19,20,21,22,23,24,25,26,27,28,29,30,31,32,33,34,35,36,37,38,39],"tickSize":{"condition":{"test":"datum.value % 10 === 0","value":-5},"value":-3},"labels":false,"title":null}},"y":{"field":"E","type":"quantitative","scale":{"domain":[0,100],"nice":false,"zero":false},"axis":{"orient":"left","values":[0,4,8,12,16,20,24,28,32,36,40,44,48,52,56,60,64,68,72,76,80,84,88,92,96,100],"tickSize":{"condition":{"test":"datum.value % 20 === 0","value":-16},"value":-9},"labels":false,"title":"(a.u.)","titleAngle":0,"titleAlign":"right","titleBaseline":"middle","titleX":-6,"titleY":37,"titleFontSize":26}}}},
{"mark":{"type":"line","color":"#0000ff","strokeWidth":1.4,"clip":true},"encoding":{"x":{"field":"t","type":"quantitative","axis":{"orient":"top","values":[0,1,2,3,4,5,6,7,8,9,10,11,12,13,14,15,16,17,18,19,20,21,22,23,24,25,26,27,28,29,30,31,32,33,34,35,36,37,38,39],"tickSize":{"condition":{"test":"datum.value % 10 === 0","value":-5},"value":-3},"labels":false,"title":null}},"y":{"field":"e","type":"quantitative","axis":{"orient":"right","values":[0,4,8,12,16,20,24,28,32,36,40,44,48,52,56,60,64,68,72,76,80,84,88,92,96,100],"tickSize":{"condition":{"test":"datum.value % 20 === 0","value":-16},"value":-9},"labels":false,"title":null}}}},
{"data":{"values":[{}]},"mark":{"type":"text","fontSize":25,"color":"#222","baseline":"middle","align":"center"},"encoding":{"x":{"datum":2.34,"type":"quantitative","axis":null},"y":{"datum":74,"type":"quantitative","axis":null},"text":{"value":"(e)"}}},
{"data":{"values":[{}]},"mark":{"type":"text","fontSize":27,"color":"#111","baseline":"middle","align":"left"},"encoding":{"x":{"datum":35.24,"type":"quantitative","axis":null},"y":{"datum":50,"type":"quantitative","axis":null},"text":{"value":"O VI"}}}
],"resolve":{"axis":{"x":"independent","y":"independent"}}},

{"width":1106,"height":74,"data":{"name":"m"},
"layer":[
{"mark":{"type":"line","color":"#ff0000","strokeWidth":1.4,"clip":true},"encoding":{"x":{"field":"t","type":"quantitative","scale":{"domain":[0,39.85],"nice":false,"zero":false},"axis":{"orient":"bottom","values":[0,1,2,3,4,5,6,7,8,9,10,11,12,13,14,15,16,17,18,19,20,21,22,23,24,25,26,27,28,29,30,31,32,33,34,35,36,37,38,39],"tickSize":{"condition":{"test":"datum.value % 10 === 0","value":-5},"value":-3},"labels":false,"title":null}},"y":{"field":"F","type":"quantitative","scale":{"domain":[0,100],"nice":false,"zero":false},"axis":{"orient":"left","values":[0,4,8,12,16,20,24,28,32,36,40,44,48,52,56,60,64,68,72,76,80,84,88,92,96,100],"tickSize":{"condition":{"test":"datum.value % 20 === 0","value":-16},"value":-9},"labels":false,"title":"(a.u.)","titleAngle":0,"titleAlign":"right","titleBaseline":"middle","titleX":-6,"titleY":37,"titleFontSize":26}}}},
{"mark":{"type":"line","color":"#0000ff","strokeWidth":1.4,"clip":true},"encoding":{"x":{"field":"t","type":"quantitative","axis":{"orient":"top","values":[0,1,2,3,4,5,6,7,8,9,10,11,12,13,14,15,16,17,18,19,20,21,22,23,24,25,26,27,28,29,30,31,32,33,34,35,36,37,38,39],"tickSize":{"condition":{"test":"datum.value % 10 === 0","value":-5},"value":-3},"labels":false,"title":null}},"y":{"field":"f","type":"quantitative","axis":{"orient":"right","values":[0,4,8,12,16,20,24,28,32,36,40,44,48,52,56,60,64,68,72,76,80,84,88,92,96,100],"tickSize":{"condition":{"test":"datum.value % 20 === 0","value":-16},"value":-9},"labels":false,"title":null}}}},
{"data":{"values":[{}]},"mark":{"type":"text","fontSize":25,"color":"#222","baseline":"middle","align":"center"},"encoding":{"x":{"datum":1.69,"type":"quantitative","axis":null},"y":{"datum":66,"type":"quantitative","axis":null},"text":{"value":"(f)"}}},
{"data":{"values":[{}]},"mark":{"type":"text","fontSize":27,"color":"#111","baseline":"middle","align":"left"},"encoding":{"x":{"datum":35.24,"type":"quantitative","axis":null},"y":{"datum":47,"type":"quantitative","axis":null},"text":{"value":"C III"}}}
],"resolve":{"axis":{"x":"independent","y":"independent"}}},

{"width":1106,"height":76,"data":{"name":"m"},
"layer":[
{"mark":{"type":"line","color":"#ff0000","strokeWidth":1.4,"clip":true},"encoding":{"x":{"field":"t","type":"quantitative","scale":{"domain":[0,39.85],"nice":false,"zero":false},"axis":{"orient":"bottom","values":[0,1,2,3,4,5,6,7,8,9,10,11,12,13,14,15,16,17,18,19,20,21,22,23,24,25,26,27,28,29,30,31,32,33,34,35,36,37,38,39],"tickSize":{"condition":{"test":"datum.value % 10 === 0","value":-5},"value":-3},"labels":false,"title":null}},"y":{"field":"G","type":"quantitative","scale":{"domain":[0,100],"nice":false,"zero":false},"axis":{"orient":"left","values":[0,4,8,12,16,20,24,28,32,36,40,44,48,52,56,60,64,68,72,76,80,84,88,92,96,100],"tickSize":{"condition":{"test":"datum.value % 20 === 0","value":-16},"value":-9},"labels":false,"title":"(a.u.)","titleAngle":0,"titleAlign":"right","titleBaseline":"middle","titleX":-6,"titleY":38,"titleFontSize":26}}}},
{"mark":{"type":"line","color":"#0000ff","strokeWidth":1.4,"clip":true},"encoding":{"x":{"field":"t","type":"quantitative","axis":{"orient":"top","values":[0,1,2,3,4,5,6,7,8,9,10,11,12,13,14,15,16,17,18,19,20,21,22,23,24,25,26,27,28,29,30,31,32,33,34,35,36,37,38,39],"tickSize":{"condition":{"test":"datum.value % 10 === 0","value":-5},"value":-3},"labels":false,"title":null}},"y":{"field":"g","type":"quantitative","axis":{"orient":"right","values":[0,4,8,12,16,20,24,28,32,36,40,44,48,52,56,60,64,68,72,76,80,84,88,92,96,100],"tickSize":{"condition":{"test":"datum.value % 20 === 0","value":-16},"value":-9},"labels":false,"title":null}}}},
{"data":{"values":[{}]},"mark":{"type":"text","fontSize":25,"color":"#222","baseline":"middle","align":"center"},"encoding":{"x":{"datum":3.89,"type":"quantitative","axis":null},"y":{"datum":83,"type":"quantitative","axis":null},"text":{"value":"(g)"}}},
{"data":{"values":[{}]},"mark":{"type":"text","fontSize":27,"color":"#111","baseline":"middle","align":"left"},"encoding":{"x":{"datum":35.24,"type":"quantitative","axis":null},"y":{"datum":48,"type":"quantitative","axis":null},"text":{"value":"Be IV"}}}
],"resolve":{"axis":{"x":"independent","y":"independent"}}},

{"width":1106,"height":75,"data":{"name":"m"},
"layer":[
{"mark":{"type":"line","color":"#ff0000","strokeWidth":1.4,"clip":true},"encoding":{"x":{"field":"t","type":"quantitative","scale":{"domain":[0,39.85],"nice":false,"zero":false},"axis":{"orient":"bottom","values":[0,1,2,3,4,5,6,7,8,9,10,11,12,13,14,15,16,17,18,19,20,21,22,23,24,25,26,27,28,29,30,31,32,33,34,35,36,37,38,39],"tickSize":{"condition":{"test":"datum.value % 10 === 0","value":-5},"value":-3},"labels":false,"title":null}},"y":{"field":"H","type":"quantitative","scale":{"domain":[0,100],"nice":false,"zero":false},"axis":{"orient":"left","values":[0,4,8,12,16,20,24,28,32,36,40,44,48,52,56,60,64,68,72,76,80,84,88,92,96,100],"tickSize":{"condition":{"test":"datum.value % 20 === 0","value":-16},"value":-9},"labels":false,"title":"(a.u.)","titleAngle":0,"titleAlign":"right","titleBaseline":"middle","titleX":-6,"titleY":38,"titleFontSize":26}}}},
{"mark":{"type":"line","color":"#0000ff","strokeWidth":1.4,"clip":true},"encoding":{"x":{"field":"t","type":"quantitative","axis":{"orient":"top","values":[0,1,2,3,4,5,6,7,8,9,10,11,12,13,14,15,16,17,18,19,20,21,22,23,24,25,26,27,28,29,30,31,32,33,34,35,36,37,38,39],"tickSize":{"condition":{"test":"datum.value % 10 === 0","value":-5},"value":-3},"labels":false,"title":null}},"y":{"field":"h","type":"quantitative","axis":{"orient":"right","values":[0,4,8,12,16,20,24,28,32,36,40,44,48,52,56,60,64,68,72,76,80,84,88,92,96,100],"tickSize":{"condition":{"test":"datum.value % 20 === 0","value":-16},"value":-9},"labels":false,"title":null}}}},
{"data":{"values":[{}]},"mark":{"type":"text","fontSize":25,"color":"#222","baseline":"middle","align":"center"},"encoding":{"x":{"datum":1.73,"type":"quantitative","axis":null},"y":{"datum":72,"type":"quantitative","axis":null},"text":{"value":"(h)"}}},
{"data":{"values":[{}]},"mark":{"type":"text","fontSize":27,"color":"#111","baseline":"middle","align":"left"},"encoding":{"x":{"datum":35.24,"type":"quantitative","axis":null},"y":{"datum":48,"type":"quantitative","axis":null},"text":{"value":"Ar XVI"}}}
],"resolve":{"axis":{"x":"independent","y":"independent"}}},

{"width":1106,"height":73,"data":{"name":"m"},
"layer":[
{"mark":{"type":"line","color":"#ff0000","strokeWidth":1.4,"clip":true},"encoding":{"x":{"field":"t","type":"quantitative","scale":{"domain":[0,39.85],"nice":false,"zero":false},"axis":{"orient":"bottom","values":[0,1,2,3,4,5,6,7,8,9,10,11,12,13,14,15,16,17,18,19,20,21,22,23,24,25,26,27,28,29,30,31,32,33,34,35,36,37,38,39],"tickSize":{"condition":{"test":"datum.value % 10 === 0","value":-5},"value":-3},"labels":false,"title":null}},"y":{"field":"I","type":"quantitative","scale":{"domain":[0,100],"nice":false,"zero":false},"axis":{"orient":"left","values":[0,2,4,6,8,10,12,14,16,18,20,22,24,26,28,30,32,34,36,38,40,42,44,46,48,50,52,54,56,58,60,62,64,66,68,70,72,74,76,78,80,82,84,86,88,90,92,94,96,98,100],"tickSize":-13,"tickColor":"#111","tickWidth":1.6,"labels":false,"title":"(a.u.)","titleAngle":0,"titleAlign":"right","titleBaseline":"middle","titleX":-6,"titleY":36,"titleFontSize":26}}}},
{"mark":{"type":"line","color":"#0000ff","strokeWidth":1.4,"clip":true},"encoding":{"x":{"field":"t","type":"quantitative","axis":{"orient":"top","values":[0,1,2,3,4,5,6,7,8,9,10,11,12,13,14,15,16,17,18,19,20,21,22,23,24,25,26,27,28,29,30,31,32,33,34,35,36,37,38,39],"tickSize":{"condition":{"test":"datum.value % 10 === 0","value":-5},"value":-3},"labels":false,"title":null}},"y":{"field":"i","type":"quantitative","axis":{"orient":"right","values":[0,2,4,6,8,10,12,14,16,18,20,22,24,26,28,30,32,34,36,38,40,42,44,46,48,50,52,54,56,58,60,62,64,66,68,70,72,74,76,78,80,82,84,86,88,90,92,94,96,98,100],"tickSize":-11,"tickColor":"#111","tickWidth":1.6,"labels":false,"title":null}}}},
{"data":{"values":[{}]},"mark":{"type":"text","fontSize":25,"color":"#222","baseline":"middle","align":"center"},"encoding":{"x":{"datum":1.69,"type":"quantitative","axis":null},"y":{"datum":63,"type":"quantitative","axis":null},"text":{"value":"(i)"}}},
{"data":{"values":[{}]},"mark":{"type":"text","fontSize":27,"color":"#111","baseline":"middle","align":"left"},"encoding":{"x":{"datum":35.24,"type":"quantitative","axis":null},"y":{"datum":51,"type":"quantitative","axis":null},"text":{"value":"Ne VIII"}}}
],"resolve":{"axis":{"x":"independent","y":"independent"}}},

{"width":1106,"height":55,"data":{"name":"m"},
"layer":[
{"mark":{"type":"line","color":"#ff0000","strokeWidth":1.4,"clip":true},"encoding":{"x":{"field":"t","type":"quantitative","scale":{"domain":[0,39.85],"nice":false,"zero":false},"axis":{"orient":"bottom","values":[0,1,2,3,4,5,6,7,8,9,10,11,12,13,14,15,16,17,18,19,20,21,22,23,24,25,26,27,28,29,30,31,32,33,34,35,36,37,38,39],"tickSize":{"condition":{"test":"datum.value % 10 === 0","value":-5},"value":-3},"labels":true,"labelExpr":"datum.value % 10 === 0 ? datum.label : ''","labelFontSize":24,"labelPadding":19,"labelOverlap":false,"labelFlush":false,"labelBound":false,"title":"Time(s)","titleFontSize":24,"titleX":470,"titleY":38,"titleBaseline":"middle","titleAlign":"center"}},"y":{"field":"J","type":"quantitative","scale":{"domain":[0,100],"nice":false,"zero":false},"axis":{"orient":"left","values":[0,4,8,12,16,20,24,28,32,36,40,44,48,52,56,60,64,68,72,76,80,84,88,92,96,100],"tickSize":{"condition":{"test":"datum.value % 20 === 0","value":-16},"value":-9},"labels":false,"title":"(a.u.)","titleAngle":0,"titleAlign":"right","titleBaseline":"middle","titleX":-6,"titleY":20,"titleFontSize":26}}}},
{"mark":{"type":"line","color":"#0000ff","strokeWidth":1.4,"clip":true},"encoding":{"x":{"field":"t","type":"quantitative","axis":{"orient":"top","values":[0,1,2,3,4,5,6,7,8,9,10,11,12,13,14,15,16,17,18,19,20,21,22,23,24,25,26,27,28,29,30,31,32,33,34,35,36,37,38,39],"tickSize":{"condition":{"test":"datum.value % 10 === 0","value":-5},"value":-3},"labels":false,"title":null}},"y":{"field":"j","type":"quantitative","axis":{"orient":"right","values":[0,4,8,12,16,20,24,28,32,36,40,44,48,52,56,60,64,68,72,76,80,84,88,92,96,100],"tickSize":{"condition":{"test":"datum.value % 20 === 0","value":-16},"value":-9},"labels":false,"title":null}}}},
{"data":{"values":[{}]},"mark":{"type":"text","fontSize":25,"color":"#222","baseline":"middle","align":"center"},"encoding":{"x":{"datum":2.05,"type":"quantitative","axis":null},"y":{"datum":69,"type":"quantitative","axis":null},"text":{"value":"(j)"}}},
{"data":{"values":[{}]},"mark":{"type":"text","fontSize":27,"color":"#111","baseline":"middle","align":"left"},"encoding":{"x":{"datum":35.24,"type":"quantitative","axis":null},"y":{"datum":45,"type":"quantitative","axis":null},"text":{"value":"W"}}}
],"resolve":{"axis":{"x":"independent","y":"independent"}}}
]
}
